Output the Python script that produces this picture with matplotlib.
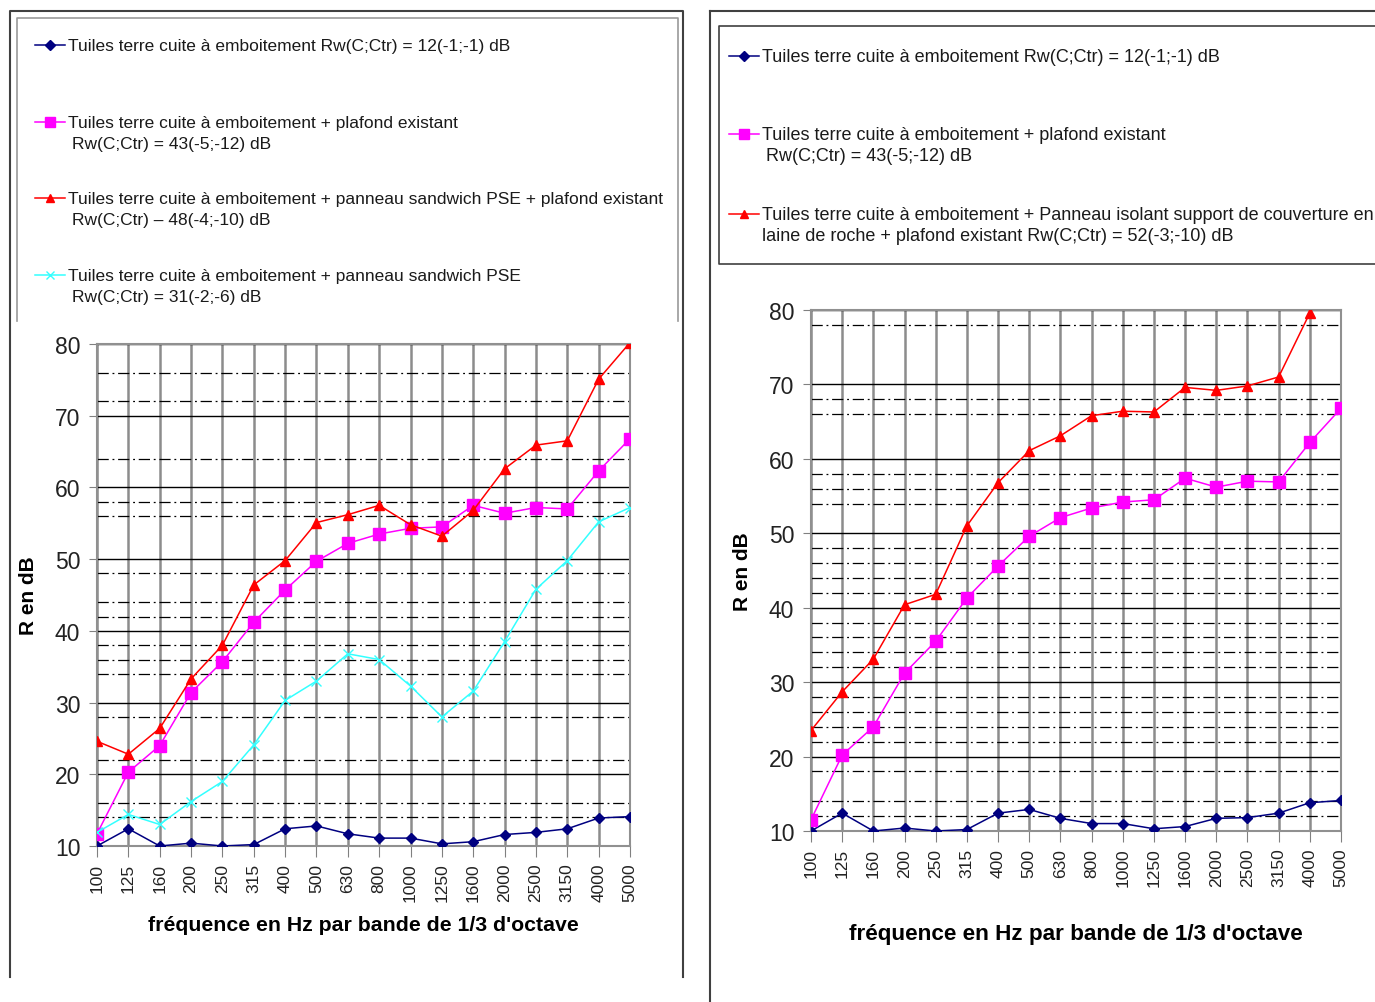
import numpy as np
import matplotlib
matplotlib.use('Agg')
import matplotlib.pyplot as plt

plt.rcParams['font.family'] = ['Liberation Sans', 'DejaVu Sans']

# bandes de 1/3 d'octave
freqs = ['100', '125', '160', '200', '250', '315', '400', '500', '630', '800',
         '1000', '1250', '1600', '2000', '2500', '3150', '4000', '5000']

# graphe de gauche
left_tuiles = [10.0, 12.4, 10.0, 10.4, 10.0, 10.2, 12.4, 12.8, 11.7, 11.1,
               11.1, 10.3, 10.6, 11.6, 11.9, 12.4, 13.9, 14.1]
left_plafond = [11.7, 20.3, 24.0, 31.4, 35.7, 41.2, 45.7, 49.7, 52.2, 53.5,
                54.3, 54.5, 57.5, 56.4, 57.2, 57.0, 62.3, 66.8]
left_pse_plafond = [24.6, 22.8, 26.4, 33.3, 38.0, 46.4, 49.8, 55.1, 56.2, 57.5,
                    54.8, 53.2, 56.8, 62.6, 65.9, 66.5, 75.1, 80.2]
left_pse = [11.9, 14.4, 13.0, 16.2, 19.0, 24.1, 30.3, 33.0, 36.8, 36.0,
            32.3, 28.0, 31.6, 38.5, 45.8, 49.8, 55.2, 57.2]
left_dash_levels = [76, 72, 64, 58, 56, 48, 44, 42, 38, 36, 34, 28, 22, 16, 14]

# graphe de droite
right_tuiles = [10.0, 12.4, 10.0, 10.4, 10.0, 10.2, 12.4, 12.9, 11.7, 11.0,
                11.0, 10.3, 10.6, 11.7, 11.8, 12.4, 13.8, 14.1]
right_plafond = [11.5, 20.2, 24.0, 31.2, 35.5, 41.3, 45.6, 49.6, 52.1, 53.4,
                 54.2, 54.5, 57.4, 56.2, 57.0, 56.9, 62.2, 66.8]
right_laine_plafond = [23.5, 28.7, 33.1, 40.4, 41.8, 51.0, 56.8, 61.1, 63.1, 65.8,
                       66.4, 66.3, 69.6, 69.2, 69.8, 71.0, 79.6, np.nan]
right_dash_levels = [78, 68, 66, 58, 56, 54, 48, 46, 44, 42, 38, 36, 34, 32,
                     28, 26, 24, 22, 18, 14, 12]

W, H = 1375, 1003
fig = plt.figure(figsize=(W / 100, H / 100), dpi=100)

STYLES = {
    'tuiles': dict(color='#000080', marker='D', ms=5.5),
    'plafond': dict(color='#ff00ff', marker='s', ms=8),
    'pse_plafond': dict(color='#ff0000', marker='^', ms=7),
    'pse': dict(color='#33ffff', marker='x', ms=7, mew=1),
}


def rect(x0, y0, x1, y1):
    return [x0 / W, 1 - y1 / H, (x1 - x0) / W, (y1 - y0) / H]


def draw_chart(ax, series, dash_levels, xlab_size, xlab_pad):
    x = np.arange(len(freqs))
    for lvl in dash_levels:
        ax.axhline(lvl, color='black', lw=0.9, ls=(0, (9, 3, 1.5, 3)), zorder=1)
    for vals, key in series:
        st = STYLES[key]
        ax.plot(x, vals, lw=1.1, zorder=3, markeredgecolor=st['color'], **st)
    ax.set_xlim(0, len(freqs) - 1)
    ax.set_ylim(10, 80)
    ax.set_xticks(x)
    ax.set_xticklabels(freqs, rotation=90, fontsize=12.5, color='#222222')
    ax.set_yticks(range(10, 81, 10))
    ax.tick_params(axis='y', labelsize=16.5, length=6, color='#808080', pad=6,
                   labelcolor='#222222')
    ax.tick_params(axis='x', length=8, color='#808080', pad=4)
    ax.xaxis.grid(True, color='#8c8c8c', lw=1.8)
    ax.yaxis.grid(True, color='black', lw=1.0)
    ax.set_axisbelow(True)
    for sp in ax.spines.values():
        sp.set_color('#909090')
        sp.set_linewidth(1.5)
    ax.set_xlabel("fréquence en Hz par bande de 1/3 d'octave", fontsize=xlab_size,
                  fontweight='bold', labelpad=xlab_pad)
    ax.set_ylabel('R en dB', fontsize=15, fontweight='bold', labelpad=12)


ax1 = fig.add_axes(rect(97, 345, 630, 847))
draw_chart(ax1, [(left_tuiles, 'tuiles'), (left_plafond, 'plafond'),
                 (left_pse_plafond, 'pse_plafond'), (left_pse, 'pse')],
           left_dash_levels, 15.3, 10)

ax2 = fig.add_axes(rect(811, 311, 1341, 832))
draw_chart(ax2, [(right_tuiles, 'tuiles'), (right_plafond, 'plafond'),
                 (right_laine_plafond, 'pse_plafond')],
           right_dash_levels, 16.2, 26)

# cadres et légendes (coordonnées en pixels)
ov = fig.add_axes([0, 0, 1, 1], zorder=-1)
ov.set_xlim(0, W)
ov.set_ylim(H, 0)
ov.axis('off')

frame = dict(color='#404040', lw=1.5)
ov.plot([10, 10, 683, 683], [978, 12, 12, 978], **frame)
ov.plot([17, 17, 678, 678], [322, 19, 19, 322], color='#999999', lw=1.2)
ov.plot([710, 710], [1003, 12], **frame)
ov.plot([710, 1375], [12, 12], **frame)
ov.plot([1375, 719, 719, 1375], [27, 27, 265, 265], color='#404040', lw=1.2)


def legend_entry(x, y, key, lines, size, indent):
    st = STYLES[key]
    ov.plot([x, x + 30], [y, y], color=st['color'], lw=1.1)
    ov.plot([x + 15], [y], color=st['color'], marker=st['marker'],
            ms=st['ms'] * 0.85, mew=st.get('mew', 1))
    ov.text(x + 33, y, lines[0], fontsize=size, va='center', color='#1a1a1a')
    if len(lines) > 1:
        ov.text(x + 33 + indent, y + 21, lines[1], fontsize=size, va='center',
                color='#1a1a1a')


legend_entry(35, 46, 'tuiles', ['Tuiles terre cuite à emboitement Rw(C;Ctr) = 12(-1;-1) dB'], 12.5, 4)
legend_entry(35, 123, 'plafond', ['Tuiles terre cuite à emboitement + plafond existant',
                                  'Rw(C;Ctr) = 43(-5;-12) dB'], 12.5, 4)
legend_entry(35, 199, 'pse_plafond', ['Tuiles terre cuite à emboitement + panneau sandwich PSE + plafond existant',
                                      'Rw(C;Ctr) – 48(-4;-10) dB'], 12.5, 4)
legend_entry(35, 276, 'pse', ['Tuiles terre cuite à emboitement + panneau sandwich PSE',
                              'Rw(C;Ctr) = 31(-2;-6) dB'], 12.5, 4)

legend_entry(729, 57, 'tuiles', ['Tuiles terre cuite à emboitement Rw(C;Ctr) = 12(-1;-1) dB'], 13, 4)
legend_entry(729, 135, 'plafond', ['Tuiles terre cuite à emboitement + plafond existant',
                                   'Rw(C;Ctr) = 43(-5;-12) dB'], 13, 4)
legend_entry(729, 215, 'pse_plafond', ['Tuiles terre cuite à emboitement + Panneau isolant support de couverture en',
                                       'laine de roche + plafond existant Rw(C;Ctr) = 52(-3;-10) dB'], 13, 0)

fig.savefig('out.png', dpi=100)
